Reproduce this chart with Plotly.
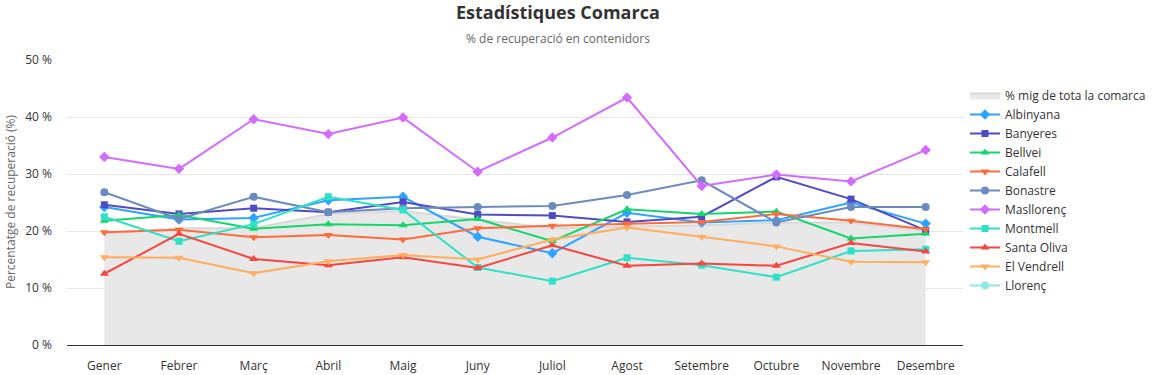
import plotly.graph_objects as go

mesos = ["Gener", "Febrer", "Març", "Abril", "Maig", "Juny", "Juliol",
         "Agost", "Setembre", "Octubre", "Novembre", "Desembre"]

mitja_comarca = [19.5, 20.5, 20.5, 23.0, 23.5, 22.0, 20.5, 20.8, 21.0, 21.5, 21.5, 20.0]
albinyana     = [24.2, 22.0, 22.3, 25.4, 26.0, 19.0, 16.1, 23.2, 21.5, 21.9, 25.0, 21.3]
banyeres      = [24.6, 23.0, 24.0, 23.3, 25.1, 22.9, 22.7, 21.6, 22.5, 29.5, 25.6, 20.1]
bellvei       = [21.8, 22.8, 20.4, 21.2, 21.0, 22.1, 18.2, 23.8, 23.0, 23.4, 18.7, 19.5]
calafell      = [19.8, 20.2, 18.9, 19.3, 18.5, 20.5, 20.9, 21.3, 21.6, 23.0, 21.8, 20.3]
bonastre      = [26.8, 22.1, 26.0, 23.3, 24.0, 24.2, 24.4, 26.3, 28.9, 21.5, 24.2, 24.2]
masllorenc    = [33.0, 30.9, 39.6, 37.0, 39.9, 30.4, 36.4, 43.4, 27.9, 29.9, 28.7, 34.2]
montmell      = [22.5, 18.2, 21.2, 26.0, 23.7, 13.6, 11.2, 15.3, 14.0, 11.9, 16.5, 16.8]
santa_oliva   = [12.5, 19.5, 15.1, 14.0, 15.4, 13.5, 17.5, 13.9, 14.3, 13.9, 17.9, 16.4]
el_vendrell   = [15.4, 15.3, 12.6, 14.7, 15.8, 15.0, 18.5, 20.6, 19.0, 17.3, 14.6, 14.5]
llorenc       = [None, None, None, None, None, None, None, None, None, None, None, None]

series = [
    ("Albinyana", albinyana, "#2ea3ff", "diamond"),
    ("Banyeres", banyeres, "#4f4bc4", "square"),
    ("Bellvei", bellvei, "#14d66c", "triangle-up"),
    ("Calafell", calafell, "#ff6a3a", "triangle-down"),
    ("Bonastre", bonastre, "#6b8bbf", "circle"),
    ("Masllorenç", masllorenc, "#d46bff", "diamond"),
    ("Montmell", montmell, "#2ee0c6", "square"),
    ("Santa Oliva", santa_oliva, "#f5463f", "triangle-up"),
    ("El Vendrell", el_vendrell, "#ffad5e", "triangle-down"),
    ("Llorenç", llorenc, "#8fe8dc", "circle"),
]

marker_size = {"diamond": 8, "square": 7, "circle": 8, "triangle-up": 8, "triangle-down": 8}

fig = go.Figure()

fig.add_trace(go.Scatter(
    x=mesos, y=mitja_comarca, name="% mig de tota la comarca",
    mode="lines", fill="tozeroy", fillcolor="#e8e8e8",
    line=dict(color="#d9d9d9", width=2),
))

for name, vals, color, sym in series:
    fig.add_trace(go.Scatter(
        x=mesos, y=vals, name=name, mode="lines+markers",
        line=dict(color=color, width=2),
        marker=dict(symbol=sym, size=marker_size[sym], color=color),
    ))

L, R, T, B = 67, 194, 60, 30
W, H = 1157, 375
pw, ph = W - L - R, H - T - B

def px(x):
    return (x - L) / pw

def py(y):
    return (H - B - y) / ph

fig.update_layout(
    width=W, height=H,
    paper_bgcolor="white", plot_bgcolor="white",
    margin=dict(l=L, r=R, t=T, b=B, autoexpand=False),
    font=dict(family="Open Sans, sans-serif", color="#333333", size=12),
    annotations=[
        dict(text="<b>Estadístiques Comarca</b>", x=px(558), y=py(12),
             xref="paper", yref="paper", showarrow=False,
             xanchor="center", yanchor="middle",
             font=dict(size=18, color="#333333")),
        dict(text="% de recuperació en contenidors", x=px(558), y=py(38),
             xref="paper", yref="paper", showarrow=False,
             xanchor="center", yanchor="middle",
             font=dict(size=12, color="#666666")),
        dict(text="Percentatge de recuperació (%)", x=px(10), y=py(202),
             xref="paper", yref="paper", showarrow=False, textangle=-90,
             xanchor="center", yanchor="middle",
             font=dict(size=12, color="#666666")),
    ],
    showlegend=True,
    legend=dict(
        x=px(965), xanchor="left", y=py(81), yanchor="top",
        font=dict(size=12, color="#333333"),
        tracegroupgap=0, itemwidth=30,
        bgcolor="rgba(0,0,0,0)",
    ),
    xaxis=dict(
        type="category", range=[-0.5, 11.5], automargin=False,
        showgrid=False, showline=True, linecolor="#333333", linewidth=1,
        ticks="", tickfont=dict(size=12, color="#333333"),
        ticklabelstandoff=10, fixedrange=True,
    ),
    yaxis=dict(
        range=[0, 50], dtick=10, ticksuffix=" %", automargin=False,
        showgrid=True, gridcolor="#e6e6e6", gridwidth=1,
        zeroline=False, showline=False,
        tickfont=dict(size=12, color="#333333"),
        ticklabelstandoff=14,
    ),
)

fig.write_html(
    "out.html",
    config={"displayModeBar": False},
    post_script="document.body.style.margin='0';document.body.style.overflow='hidden';",
)
